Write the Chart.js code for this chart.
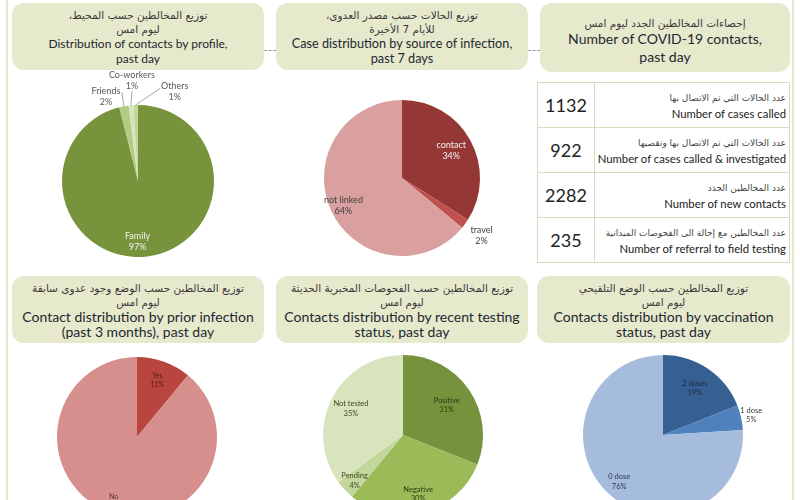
<!DOCTYPE html>
<html>
<head>
<meta charset="utf-8">
<script src="https://cdn.jsdelivr.net/npm/chart.js@4"></script>
<style>
  html, body { margin: 0; padding: 0; }
  body { width: 800px; height: 500px; overflow: hidden; position: relative; background: #fff; font-family: Lato, "DejaVu Sans", sans-serif; color: #1d2830; }
  .vline { position: absolute; top: 0; width: 2px; height: 500px; background: #e6e6cf; }
  .box { position: absolute; background: #e7e9cd; border-radius: 12px; text-align: center; box-sizing: border-box; padding-top: 5px; }
  .ar { direction: rtl; font-family: "DejaVu Sans", sans-serif; font-size: 10.5px; line-height: 14px; color: #3a3a3a; white-space: nowrap; }
  .en { font-size: 14px; line-height: 15px; white-space: nowrap; }
  .dash { position: absolute; height: 0; border-top: 1px dashed #9a9a9a; }
  canvas { position: absolute; }
  table { position: absolute; left: 537px; top: 82px; width: 253px; border-collapse: collapse; table-layout: fixed; }
  td { border: 1px solid #d8dcb8; height: 44px; padding: 0; overflow: hidden; }
  td.num { width: 56px; text-align: center; font-size: 18px; color: #222; }
  td.txt { text-align: right; padding-right: 3px; white-space: nowrap; }
  td.txt .a { direction: rtl; font-family: "DejaVu Sans", sans-serif; font-size: 9px; line-height: 16px; color: #444; }
  td.txt .e { font-size: 11.3px; line-height: 15px; color: #222; }
</style>
</head>
<body>
<div class="vline" style="left:6px"></div>
<div class="vline" style="left:792px"></div>

<div class="dash" style="left:264px; top:50px; width:12px"></div>
<div class="dash" style="left:528px; top:50px; width:12px"></div>

<div class="box" style="left:12px; top:3px; width:252px; height:67px">
  <div class="ar">توزيع المخالطين حسب المحيط،</div>
  <div class="ar">ليوم امس</div>
  <div class="en" style="font-size:12px">Distribution of contacts by profile,</div>
  <div class="en" style="font-size:12px">past day</div>
</div>
<div class="box" style="left:276px; top:3px; width:252px; height:67px">
  <div class="ar">توزيع الحالات حسب مصدر العدوى،</div>
  <div class="ar">للأيام 7 الأخيرة</div>
  <div class="en" style="font-size:12.7px">Case distribution by source of infection,</div>
  <div class="en" style="font-size:12.7px">past 7 days</div>
</div>
<div class="box" style="left:540px; top:3px; width:250px; height:69px; padding-top:13px">
  <div class="ar">إحصاءات المخالطين الجدد ليوم امس</div>
  <div class="en" style="font-size:14px; line-height:18px">Number of COVID-19 contacts,</div>
  <div class="en" style="font-size:14px; line-height:18px">past day</div>
</div>

<div class="box" style="left:12px; top:276px; width:252px; height:67px">
  <div class="ar">توزيع المخالطين حسب الوضع وجود عدوى سابقة</div>
  <div class="ar">ليوم امس</div>
  <div class="en">Contact distribution by prior infection</div>
  <div class="en">(past 3 months), past day</div>
</div>
<div class="box" style="left:276px; top:276px; width:252px; height:67px">
  <div class="ar">توزيع المخالطين حسب الفحوصات المخبرية الحديثة</div>
  <div class="ar">ليوم امس</div>
  <div class="en">Contacts distribution by recent testing</div>
  <div class="en">status, past day</div>
</div>
<div class="box" style="left:537px; top:276px; width:253px; height:67px">
  <div class="ar">توزيع المخالطين حسب الوضع التلقيحي</div>
  <div class="ar">ليوم امس</div>
  <div class="en">Contacts distribution by vaccination</div>
  <div class="en">status, past day</div>
</div>

<table id="stats"></table>

<canvas id="chartProfile" width="240" height="220" style="left:18px; top:71px"></canvas>
<canvas id="chartSource" width="240" height="180" style="left:282px; top:88px"></canvas>
<canvas id="chartPrior" width="240" height="174" style="left:17px; top:350px"></canvas>
<canvas id="chartTesting" width="240" height="174" style="left:283px; top:348px"></canvas>
<canvas id="chartVacc" width="240" height="174" style="left:543px; top:348px"></canvas>

<script>
const profileLabels = ['Family', 'Friends', 'Co-workers', 'Others'];
const profileValues = [97, 2, 1, 1];

const sourceLabels = ['contact', 'travel', 'not linked'];
const sourceValues = [34, 2, 64];

const priorLabels = ['Yes', 'No'];
const priorValues = [11, 89];

const testingLabels = ['Positive', 'Negative', 'Pending', 'Not tested'];
const testingValues = [31, 30, 4, 35];

const vaccLabels = ['2 doses', '1 dose', '0 dose'];
const vaccValues = [19, 5, 76];

const statNumbers = [1132, 922, 2282, 235];
const statArabic = [
    'عدد  الحالات التي تم الاتصال بها',
    'عدد  الحالات التي تم الاتصال بها وتقصيها',
    'عدد المخالطين الجدد',
    'عدد المخالطين مع إحالة الى الفحوصات الميدانية'
];
const statEnglish = [
    'Number of cases called',
    'Number of cases called & investigated',
    'Number of new contacts',
    'Number of referral to field testing'
];

// table on the right
const tbl = document.getElementById('stats');
statNumbers.forEach((n, i) => {
    const tr = document.createElement('tr');
    tr.innerHTML = `<td class="num">${n}</td><td class="txt"><div class="a">${statArabic[i]}</div><div class="e">${statEnglish[i]}</div></td>`;
    tbl.appendChild(tr);
});

// label plugin: places "name / value%" at a fraction of the radius on each slice
const sliceLabels = {
    id: 'sliceLabels',
    afterDatasetsDraw(chart, args, opts) {
        const ctx = chart.ctx;
        const meta = chart.getDatasetMeta(0);
        const values = chart.data.datasets[0].data;
        ctx.save();
        ctx.textAlign = 'center';
        ctx.textBaseline = 'middle';
        ctx.font = (opts.size || 9) + 'px Lato, sans-serif';
        meta.data.forEach((arc, i) => {
            const item = opts.items[i];
            const p = arc.getProps(['x', 'y', 'startAngle', 'endAngle', 'outerRadius'], true);
            const mid = (p.startAngle + p.endAngle) / 2;
            const ex = p.x + Math.cos(mid) * p.outerRadius;
            const ey = p.y + Math.sin(mid) * p.outerRadius;
            const px = p.x + Math.cos(mid) * p.outerRadius * item.f + (item.dx || 0);
            const py = p.y + Math.sin(mid) * p.outerRadius * item.f + (item.dy || 0);
            if (item.line) {
                ctx.strokeStyle = '#a6a6a6';
                ctx.lineWidth = 1;
                ctx.beginPath();
                ctx.moveTo(ex, ey);
                ctx.lineTo(px + item.line[0], py + item.line[1]);
                ctx.stroke();
            }
            ctx.fillStyle = item.color;
            const lh = (opts.size || 9) + 2;
            ctx.fillText(chart.data.labels[i], px, py - lh / 2);
            ctx.fillText(values[i] + '%', px, py + lh / 2);
        });
        ctx.restore();
    }
};

function makePie(id, labels, values, colors, radius, items, size) {
    return new Chart(document.getElementById(id), {
        type: 'pie',
        data: {
            labels: labels,
            datasets: [{
                data: values,
                backgroundColor: colors,
                borderWidth: 0,
                radius: radius
            }]
        },
        options: {
            responsive: false,
            animation: false,
            devicePixelRatio: 1,
            plugins: {
                legend: { display: false },
                tooltip: { enabled: false },
                sliceLabels: { items: items, size: size }
            }
        },
        plugins: [sliceLabels]
    });
}

makePie('chartProfile', profileLabels, profileValues,
    ['#77933c', '#b3cc82', '#d7e4bd', '#c3d69b'], 76, [
        { f: 0.8, dx: -8, color: '#f2f2f2' },
        { f: 1, dx: -18, dy: -10, color: '#595959', line: [16, -4] },
        { f: 1, dx: 1, dy: -25, color: '#595959', line: [0, 11] },
        { f: 1, dx: 39, dy: -13, color: '#595959', line: [-14, -4] }
    ], 9);

makePie('chartSource', sourceLabels, sourceValues,
    ['#953735', '#c0504d', '#d9a09f'], 78, [
        { f: 0.72, color: '#f2f2f2' },
        { f: 1.26, color: '#404040' },
        { f: 0.83, color: '#404040' }
    ], 9);

makePie('chartPrior', priorLabels, priorValues,
    ['#b8463f', '#d68f8d'], 80, [
        { f: 0.75, color: '#5a1a18' },
        { f: 0.86, color: '#5a3a3a' }
    ], 7);

makePie('chartTesting', testingLabels, testingValues,
    ['#76923c', '#9bbb59', '#c3d69b', '#d7e4bd'], 80, [
        { f: 0.66, color: '#2c3a14' },
        { f: 0.76, color: '#2c3a14' },
        { f: 0.83, color: '#3c4a24' },
        { f: 0.73, color: '#3c4a24' }
    ], 7.5);

makePie('chartVacc', vaccLabels, vaccValues,
    ['#376092', '#4f81bd', '#a5bcdc'], 80, [
        { f: 0.71, color: '#1a2a44' },
        { f: 1.13, color: '#404040' },
        { f: 0.8, color: '#2a3a54' }
    ], 7.5);
</script>
</body>
</html>
